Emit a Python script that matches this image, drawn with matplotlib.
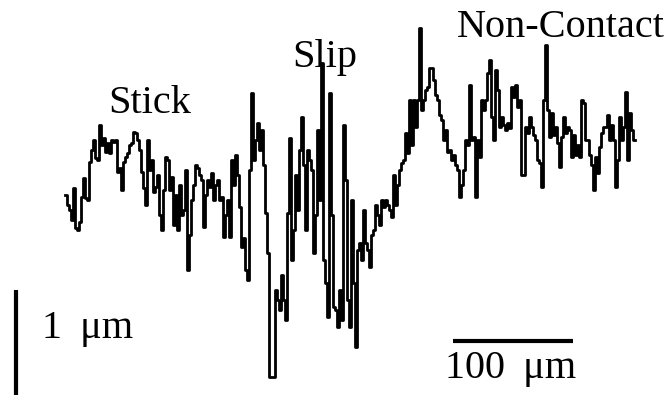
import numpy as np
import matplotlib
matplotlib.use("Agg")
import matplotlib.pyplot as plt

# surface profile: depth below top of frame (1 unit ~ 1/105 um),
# one sample every 2 px of the original = 1.667 um along the scan
depth = [
    195, 205, 210, 220, 188, 228, 230, 222, 197, 178,
    198, 200, 162, 150, 140, 158, 160, 125, 145, 138,
    152, 143, 153, 140, 142, 140, 172, 168, 190, 162,
    157, 153, 145, 143, 132, 133, 140, 150, 172, 188,
    205, 140, 170, 160, 192, 187, 175, 215, 230, 190,
    157, 160, 190, 177, 225, 195, 230, 185, 215, 210,
    170, 270, 235, 200, 185, 165, 168, 175, 180, 227,
    195, 180, 187, 173, 200, 185, 180, 200, 197, 237,
    215, 200, 237, 160, 185, 155, 175, 207, 247, 238,
    270, 280, 170, 93, 160, 140, 123, 150, 130, 165,
    213, 253, 377, 377, 377, 290, 300, 310, 275, 300,
    320, 213, 138, 260, 230, 175, 210, 150, 117, 165,
    230, 150, 160, 170, 253, 215, 130, 200, 63, 260,
    283, 317, 93, 215, 307, 310, 327, 290, 320, 125,
    180, 300, 327, 200, 283, 347, 250, 243, 260, 210,
    243, 250, 267, 235, 230, 205, 215, 225, 200, 207,
    200, 205, 210, 217, 175, 205, 185, 170, 163, 160,
    133, 153, 100, 145, 100, 127, 100, 28, 110, 100,
    90, 87, 68, 68, 80, 95, 100, 115, 120, 140,
    130, 152, 150, 160, 155, 165, 170, 197, 185, 170,
    140, 145, 85, 140, 137, 197, 140, 157, 100, 110,
    100, 73, 60, 117, 140, 70, 90, 127, 117, 125,
    130, 123, 128, 87, 97, 85, 107, 100, 175, 175,
    127, 133, 117, 127, 135, 140, 160, 163, 187, 100,
    45, 110, 137, 113, 135, 127, 143, 167, 137, 117,
    133, 127, 130, 157, 135, 155, 145, 157, 100, 103,
    140, 140, 155, 165, 190, 157, 173, 147, 133, 127,
    127, 115, 140, 125, 140, 187, 160, 117, 140, 127,
    92, 160, 113, 130, 140,
]
step_um = 100 / 60
px_per_um_z = 105.0
labels = ["Stick", "Slip", "Non-Contact"]

pos = np.arange(len(depth) + 1) * step_um
z = -np.array(depth + depth[-1:]) / px_per_um_z

fig = plt.figure(figsize=(6.67, 3.95), dpi=100)
ax = fig.add_axes([0, 0, 1, 1])
ax.set_axis_off()
ax.set_xlim(-65 / 1.2, (667 - 65) / 1.2)
ax.set_ylim(-395 / px_per_um_z, 0)

ax.step(pos, z, where="post", color="black", lw=2.0)

# scale bars
ax.plot([-40.8, -40.8], [-290 / px_per_um_z, -290 / px_per_um_z - 1.0],
        color="black", lw=3, solid_capstyle="butt", clip_on=False)
ax.plot([323.3, 423.3], [-341 / px_per_um_z] * 2,
        color="black", lw=3, solid_capstyle="butt")

font = dict(family=["Liberation Serif", "DejaVu Serif"], size=29, color="black")
fig.text(108 / 667, 1 - 113 / 395, labels[0], va="baseline", **font)
fig.text(292 / 667, 1 - 67 / 395, labels[1], va="baseline", **font)
fig.text(457 / 667, 1 - 37 / 395, labels[2], va="baseline", **font)
fig.text(42 / 667, 1 - 338 / 395, "1 \u2009\u03bcm", va="baseline", **font)
fig.text(445 / 667, 1 - 378 / 395, "100 \u2009\u03bcm", va="baseline", **font)

fig.savefig("out.png", dpi=100)
